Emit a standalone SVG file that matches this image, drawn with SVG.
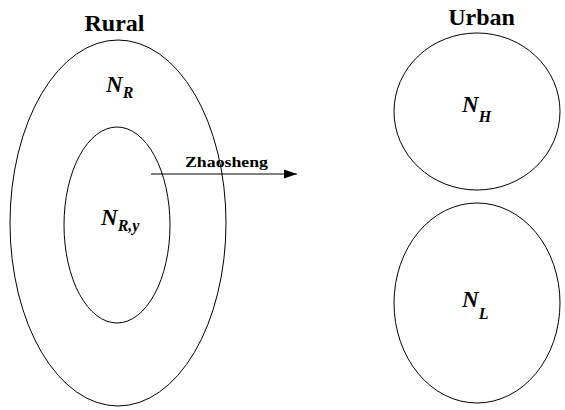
<svg xmlns="http://www.w3.org/2000/svg" width="565" height="410" viewBox="0 0 565 410">
<style>
.shape{fill:none;stroke:#000;stroke-width:1}
.title{font-family:"Liberation Serif",serif;font-weight:bold;font-size:24px;fill:#000}
.var{font-family:"Liberation Serif",serif;font-style:italic;font-weight:bold;font-size:23px;fill:#000}
.sub{font-size:16px}
.lbl{font-family:"Liberation Serif",serif;font-weight:bold;font-size:15px;fill:#000}
</style>
<defs>
<marker id="ah" markerWidth="13" markerHeight="10" refX="13" refY="5" orient="auto" markerUnits="userSpaceOnUse">
<path d="M0,0.5 L13,5 L0,9.5 Z" fill="#000"/>
</marker>
</defs>
<text class="title" x="114.5" y="31" text-anchor="middle">Rural</text>
<text class="title" x="481.5" y="25" text-anchor="middle">Urban</text>
<g id="rural">
<ellipse class="shape" cx="118" cy="223" rx="108" ry="183"/>
<text class="var" x="106" y="92">N<tspan class="sub" dy="6">R</tspan></text>
</g>
<g id="rural-y">
<ellipse class="shape" cx="117" cy="225" rx="53" ry="98"/>
<text class="var" x="101" y="225">N<tspan class="sub" dy="6">R,y</tspan></text>
</g>
<g id="urban-h">
<ellipse class="shape" cx="477" cy="111.5" rx="83" ry="78.5"/>
<text class="var" x="462" y="112">N<tspan class="sub" dy="10">H</tspan></text>
</g>
<g id="urban-l">
<ellipse class="shape" cx="477" cy="303" rx="83" ry="100"/>
<text class="var" x="462" y="307">N<tspan class="sub" dy="12">L</tspan></text>
</g>
<g id="connectors">
<line class="shape" x1="151" y1="174" x2="297" y2="174" marker-end="url(#ah)"/>
<text class="lbl" x="185" y="167" textLength="83" lengthAdjust="spacingAndGlyphs">Zhaosheng</text>
</g>
</svg>
